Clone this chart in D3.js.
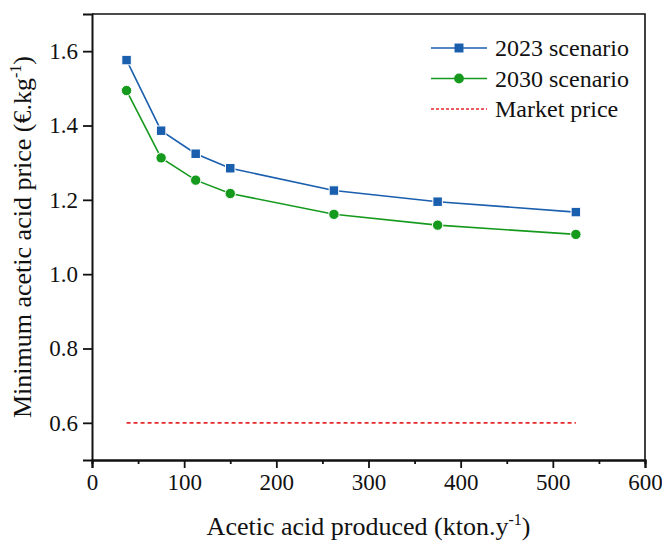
<!DOCTYPE html>
<html>
<head>
<meta charset="utf-8">
<script src="https://cdn.jsdelivr.net/npm/d3@7"></script>
<style>
  body { margin: 0; background: #fff; }
  svg text { font-family: "Liberation Serif", "Times New Roman", serif !important; fill: #111; }
</style>
</head>
<body>
<div id="viz"></div>
<script>
// data
var produced = [37.5, 75, 112.5, 150, 262.5, 375, 525];
var price2023 = [1.576, 1.386, 1.324, 1.285, 1.225, 1.195, 1.167];
var price2030 = [1.494, 1.313, 1.253, 1.217, 1.161, 1.132, 1.107];
var marketPrice = [0.6, 0.6];
var marketRange = [37.5, 525];
var xTicks = [0, 100, 200, 300, 400, 500, 600];
var yTicks = [0.6, 0.8, 1.0, 1.2, 1.4, 1.6];

var W = 662, H = 542;
var margin = {top: 14, right: 17, bottom: 82, left: 92};
var width = W - margin.left - margin.right,
    height = H - margin.top - margin.bottom;
var serif = '"Liberation Serif", "Times New Roman", serif';

var svg = d3.select("#viz").append("svg")
    .attr("width", W).attr("height", H);
var g = svg.append("g")
    .attr("transform", "translate(" + margin.left + "," + margin.top + ")");

var x = d3.scaleLinear().domain([0, 600]).range([0, width]);
var y = d3.scaleLinear().domain([0.5, 1.7]).range([height, 0]);

// frame (top + right)
g.append("path")
  .attr("d", "M0,0H" + width + "V" + height)
  .attr("fill", "none").attr("stroke", "#111").attr("stroke-width", 1.6);

// x axis with minor ticks
var xAxis = g.append("g").attr("transform", "translate(0," + height + ")");
xAxis.call(d3.axisBottom(x).tickValues(d3.range(50, 600, 100)).tickSize(4).tickFormat(""));
xAxis.append("g").call(d3.axisBottom(x).tickValues(xTicks).tickSize(8).tickPadding(6).tickFormat(d3.format("d")));

var yAxis = g.append("g");
yAxis.call(d3.axisLeft(y).tickValues(yTicks).tickSize(9).tickPadding(5).tickFormat(d3.format(".1f")));

[xAxis, yAxis].forEach(function(a) {
  a.attr("font-family", serif);
  a.selectAll("g").attr("font-family", serif);
  a.selectAll("path.domain").attr("stroke-width", 2).attr("stroke", "#111");
  a.selectAll(".tick line").attr("stroke-width", 1.8).attr("stroke", "#111");
  a.selectAll("text").style("font-family", serif).style("font-size", "23px").attr("fill", "#111");
});

// market price
g.append("path")
  .datum(marketRange.map(function(d, i) { return [d, marketPrice[i]]; }))
  .attr("fill", "none").attr("stroke", "#e8292b").attr("stroke-width", 1.6)
  .attr("stroke-dasharray", "4,3")
  .attr("d", d3.line().x(function(d) { return x(d[0]); }).y(function(d) { return y(d[1]); }));

var blue = "#1a5eae", green = "#169a1e";

function drawSeries(vals, color, shape) {
  var pts = produced.map(function(p, i) { return [p, vals[i]]; });
  g.append("path").datum(pts)
    .attr("fill", "none").attr("stroke", color).attr("stroke-width", 1.6)
    .attr("d", d3.line().x(function(d) { return x(d[0]); }).y(function(d) { return y(d[1]); }));
  g.selectAll(null).data(pts).enter().append("path")
    .attr("transform", function(d) { return "translate(" + x(d[0]) + "," + y(d[1]) + ")"; })
    .attr("d", d3.symbol().type(shape).size(shape === d3.symbolSquare ? 90 : 85))
    .attr("fill", color).attr("stroke", "#fff").attr("stroke-width", 1);
}
drawSeries(price2023, blue, d3.symbolSquare);
drawSeries(price2030, green, d3.symbolCircle);

// legend
var legend = [
  {label: "2023 scenario", color: blue, shape: d3.symbolSquare, dash: null},
  {label: "2030 scenario", color: green, shape: d3.symbolCircle, dash: null},
  {label: "Market price", color: "#e8292b", shape: null, dash: "3,2"}
];
var lg = svg.append("g").attr("transform", "translate(431,48)");
legend.forEach(function(d, i) {
  var row = lg.append("g").attr("transform", "translate(0," + (i * 30.5) + ")");
  row.append("line").attr("x1", 0).attr("x2", 56).attr("y1", 0).attr("y2", 0)
    .attr("stroke", d.color).attr("stroke-width", 1.6)
    .attr("stroke-dasharray", d.dash);
  if (d.shape) {
    row.append("path").attr("transform", "translate(28,0)")
      .attr("d", d3.symbol().type(d.shape).size(d.shape === d3.symbolSquare ? 80 : 75))
      .attr("fill", d.color);
  }
  row.append("text").attr("x", 64).attr("y", 8).style("font-size", "24px").text(d.label);
});

// axis titles
var xt = svg.append("text")
  .attr("x", margin.left + width / 2).attr("y", 535)
  .attr("text-anchor", "middle").style("font-size", "26px");
xt.append("tspan").text("Acetic acid produced (kton.y");
xt.append("tspan").attr("dy", -10).style("font-size", "16px").text("-1");
xt.append("tspan").attr("dy", 10).text(")");

var yt = svg.append("text")
  .attr("transform", "translate(31," + (margin.top + height / 2) + ") rotate(-90)")
  .attr("text-anchor", "middle").style("font-size", "26px");
yt.append("tspan").text("Minimum acetic acid price (€.kg");
yt.append("tspan").attr("dy", -10).style("font-size", "16px").text("-1");
yt.append("tspan").attr("dy", 10).text(")");
</script>
</body>
</html>
